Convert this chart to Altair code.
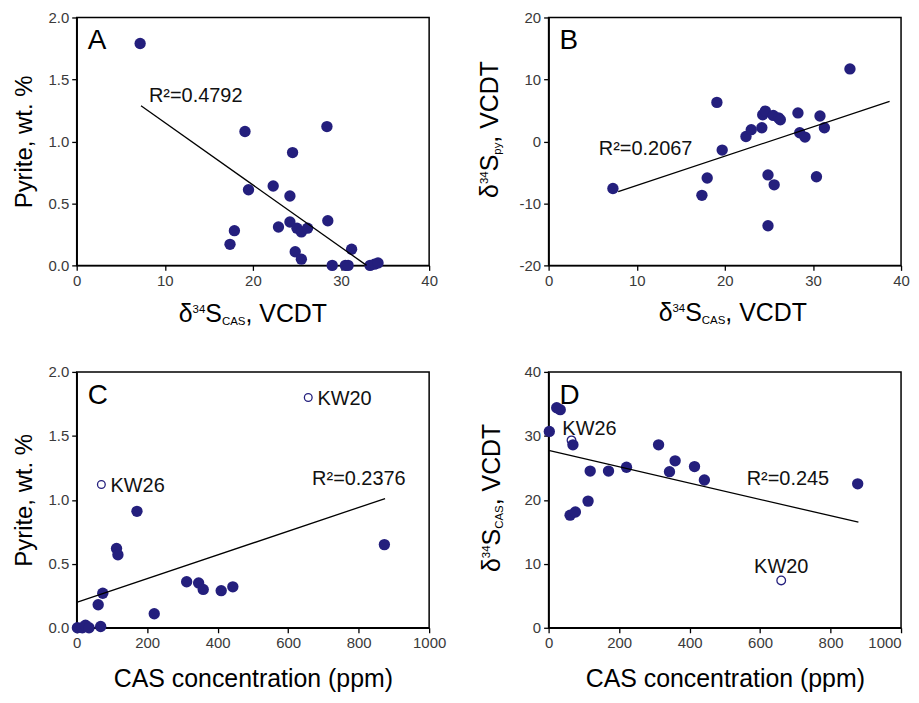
import altair as alt
import pandas as pd

# ---------------- data ----------------
# Panel A: d34S_CAS vs pyrite wt.%
a_x = [7.2, 17.4, 17.9, 19.1, 19.5, 22.3, 22.9, 24.2, 24.2, 24.5, 24.8, 25.0,
       25.5, 25.5, 26.2, 28.4, 28.5, 29.0, 30.5, 30.8, 31.2, 33.3, 33.8, 34.2]
a_y = [1.79, 0.17, 0.28, 1.08, 0.61, 0.64, 0.31, 0.56, 0.35, 0.91, 0.11, 0.30,
       0.27, 0.05, 0.30, 1.12, 0.36, 0.0, 0.0, 0.0, 0.13, 0.0, 0.01, 0.02]
a_fit_x = [7.3, 32.9]
a_fit_y = [1.288, 0.0]

# Panel B: d34S_CAS vs d34S_py
b_x = [7.3, 17.4, 18.0, 19.1, 19.7, 22.4, 23.0, 24.2, 24.3, 24.6, 25.5, 26.1,
       26.3, 24.9, 25.6, 24.9, 28.3, 28.5, 29.1, 30.4, 30.8, 31.3, 34.2]
b_y = [-7.6, -8.7, -5.9, 6.3, -1.4, 0.8, 1.9, 2.2, 4.3, 4.9, 4.2, 3.8,
       3.5, -5.4, -7.0, -13.6, 4.6, 1.4, 0.7, -5.7, 4.1, 2.2, 11.7]
b_fit_x = [7.9, 38.7]
b_fit_y = [-8.1, 6.45]

# Panel C: CAS concentration vs pyrite wt.%
c_x = [2, 16, 25, 35, 68, 61, 74, 113, 117, 171, 220, 312, 346, 359, 410, 443, 873]
c_y = [0.0, 0.0, 0.02, 0.0, 0.01, 0.18, 0.27, 0.62, 0.57, 0.91, 0.11, 0.36,
       0.35, 0.30, 0.29, 0.32, 0.65]
c_open_x = [657, 70]
c_open_y = [1.80, 1.12]
c_fit_x = [2, 875]
c_fit_y = [0.20, 1.01]

# Panel D: CAS concentration vs d34S_CAS
d_x = [2, 23, 33, 69, 61, 76, 112, 118, 170, 221, 312, 343, 359, 414, 442, 877]
d_y = [30.7, 34.4, 34.1, 28.6, 17.6, 18.1, 19.8, 24.5, 24.5, 25.1, 28.6, 24.4,
       26.1, 25.2, 23.1, 22.5]
d_open_x = [65, 660]
d_open_y = [29.3, 7.4]
d_fit_x = [0, 879]
d_fit_y = [27.75, 16.5]

# annotations
r2_text = ["R²=0.4792", "R²=0.2067", "R²=0.2376", "R²=0.245"]
r2_x = [8.2, 5.7, 668, 562]
r2_y = [1.315, -2.24, 1.115, 22.3]
c_lab = ["KW20", "KW26"]
c_lab_x = [683, 96]
c_lab_y = [1.742, 1.058]
d_lab = ["KW26", "KW20"]
d_lab_x = [39, 660]
d_lab_y = [30.2, 8.6]
d_lab_align = ["left", "center"]
panel_letters = ["A", "B", "C", "D"]

# ---------------- styling ----------------
FONT = "Liberation Sans"
NAVY = "#241f7d"
TITLE = 24
COMP = 25
SMALL = 11.5
W_TOP, H_TOP = 354, 249
W_BOT, H_BOT = 354, 257

ARIAL = {"δ": 0.556, "S": 0.667, "C": 0.722, "A": 0.667, ",": 0.278, " ": 0.278,
         "V": 0.667, "D": 0.722, "T": 0.611, "p": 0.556, "y": 0.5}

HYPHEN = "datum.value < 0 ? '-' + format(-datum.value, '{f}') : format(datum.value, '{f}')"


def tw(s, size):
    return sum(ARIAL.get(ch, 0.556) for ch in s) * size


one = pd.DataFrame({"k": [0]})


def pieces_title(pieces, x0, y0, rotate=False):
    """Compose a title with super/subscripts from text pieces (text, size, raise)."""
    total = sum(tw(t, s) for t, s, _ in pieces)
    pos = -total / 2
    out = []
    for t, s, shift in pieces:
        if rotate:
            x, y = x0 - shift, y0 - pos
        else:
            x, y = x0 + pos, y0 - shift
        out.append(
            alt.Chart(one).mark_text(text=t, fontSize=s, font=FONT, align="left",
                                     baseline="alphabetic", color="black",
                                     angle=270 if rotate else 0)
            .encode(x=alt.value(x), y=alt.value(y))
        )
        pos += tw(t, s)
    return out


def cas_title(sub):
    return [("δ", COMP, 0), ("34", SMALL, 9.5), ("S", COMP, 0), (sub, SMALL, -3),
            (", VCDT", COMP, 0)]


def letter(ch):
    return alt.Chart(one).mark_text(text=ch, fontSize=28, font=FONT, align="left",
                                    baseline="alphabetic", color="black").encode(
        x=alt.value(11), y=alt.value(32))


def axis(values, fmt="d", title=None, pad=None, **extra):
    kw = dict(values=values, title=title, labelExpr=HYPHEN.format(f=fmt))
    if pad is not None:
        kw["titlePadding"] = pad
    kw.update(extra)
    return alt.Axis(**kw)


def scatter(xs, ys, xenc, yenc):
    df = pd.DataFrame({"x": xs, "y": ys})
    return alt.Chart(df).mark_circle(size=130, color=NAVY, opacity=1).encode(x=xenc, y=yenc)


def fit(xs, ys):
    df = pd.DataFrame({"x": xs, "y": ys})
    return alt.Chart(df).mark_line(color="black", strokeWidth=1.3).encode(x="x:Q", y="y:Q")


def label(texts, xs, ys, size=20, align="left"):
    df = pd.DataFrame({"x": xs, "y": ys, "t": texts})
    return alt.Chart(df).mark_text(fontSize=size, font=FONT, align=align,
                                   baseline="alphabetic", color="#111").encode(
        x="x:Q", y="y:Q", text="t:N")


def open_pts(xs, ys, size):
    df = pd.DataFrame({"x": xs, "y": ys})
    return alt.Chart(df).mark_point(shape="circle", filled=False, size=size, color=NAVY,
                                    strokeWidth=1.3, opacity=1).encode(x="x:Q", y="y:Q")


x_cas = alt.X("x:Q", scale=alt.Scale(domain=[0, 40], nice=False),
              axis=axis([0, 10, 20, 30, 40]))
x_ppm_c = alt.X("x:Q", scale=alt.Scale(domain=[0, 1000], nice=False),
                axis=axis([0, 200, 400, 600, 800, 1000], title="CAS concentration (ppm)",
                          pad=16, titleFontSize=25))
x_ppm_d = alt.X("x:Q", scale=alt.Scale(domain=[0, 1000], nice=False),
                axis=axis([0, 200, 400, 600, 800, 1000], title="CAS concentration (ppm)",
                          pad=16, titleFontSize=25,
                          labelAlign={"condition": {"test": "datum.value === 1000",
                                                    "value": "right"},
                                      "value": "center"}))
y_pyr = alt.Y("y:Q", scale=alt.Scale(domain=[0, 2], nice=False),
              axis=axis([0, 0.5, 1.0, 1.5, 2.0], fmt=".1f", title="Pyrite, wt. %", pad=12))
y_py = alt.Y("y:Q", scale=alt.Scale(domain=[-20, 20], nice=False),
             axis=axis([-20, -10, 0, 10, 20]))
y_cas = alt.Y("y:Q", scale=alt.Scale(domain=[0, 40], nice=False),
              axis=axis([0, 10, 20, 30, 40]))

pA = alt.layer(
    scatter(a_x, a_y, x_cas, y_pyr),
    fit(a_fit_x, a_fit_y),
    label([r2_text[0]], [r2_x[0]], [r2_y[0]]),
    letter(panel_letters[0]),
    *pieces_title(cas_title("CAS"), W_TOP / 2, H_TOP + 57),
).properties(width=W_TOP, height=H_TOP)

pB = alt.layer(
    scatter(b_x, b_y, x_cas, y_py),
    fit(b_fit_x, b_fit_y),
    label([r2_text[1]], [r2_x[1]], [r2_y[1]]),
    letter(panel_letters[1]),
    *pieces_title(cas_title("CAS"), W_TOP / 2 + 8, H_TOP + 56),
    *pieces_title(cas_title("py"), -51, H_TOP / 2 - 12, rotate=True),
).properties(width=W_TOP, height=H_TOP)

pC = alt.layer(
    scatter(c_x, c_y, x_ppm_c, y_pyr),
    open_pts(c_open_x, c_open_y, 60),
    fit(c_fit_x, c_fit_y),
    label([r2_text[2]], [r2_x[2]], [r2_y[2]]),
    label(c_lab, c_lab_x, c_lab_y),
    letter(panel_letters[2]),
).properties(width=W_BOT, height=H_BOT)

pD = alt.layer(
    open_pts(d_open_x, d_open_y, 75),
    scatter(d_x, d_y, x_ppm_d, y_cas),
    fit(d_fit_x, d_fit_y),
    label([r2_text[3]], [r2_x[3]], [r2_y[3]]),
    label([d_lab[0]], [d_lab_x[0]], [d_lab_y[0]], align=d_lab_align[0]),
    label([d_lab[1]], [d_lab_x[1]], [d_lab_y[1]], align=d_lab_align[1]),
    letter(panel_letters[3]),
    *pieces_title(cas_title("CAS"), -49, H_BOT / 2 - 2, rotate=True),
).properties(width=W_BOT, height=H_BOT)

chart = alt.concat(
    pA, pB, pC, pD, columns=2, spacing={"row": 107, "column": 120}, bounds="flush"
).properties(
    padding={"left": 3, "top": 0, "right": 0, "bottom": 0}
).configure_view(
    stroke="black", strokeWidth=1.5
).configure_axis(
    grid=False, domainColor="black", domainWidth=1.5, tickColor="black", tickWidth=1.3,
    tickSize=5, labelFont=FONT, labelFontSize=15, labelColor="#3a3a3a", labelPadding=3,
    titleFont=FONT, titleFontSize=TITLE, titleFontWeight="normal", titleColor="black",
).configure_axisX(labelFlush=False).configure_axisY(labelFlush=False)

chart.save("out.html", embed_options={"renderer": "svg", "actions": False})
